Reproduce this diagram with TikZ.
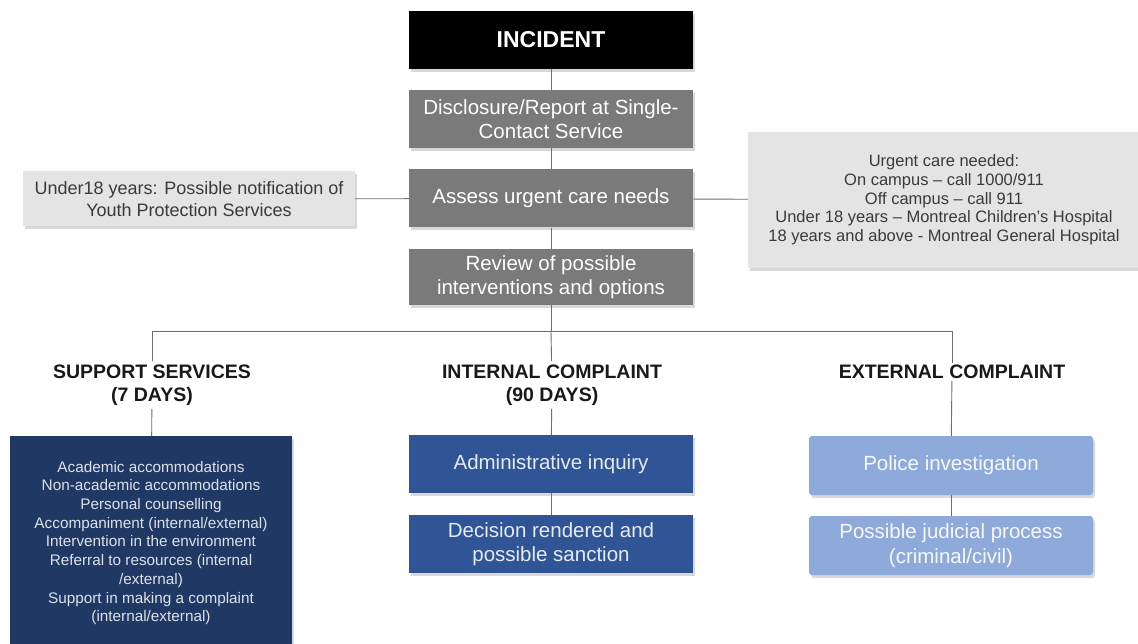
\documentclass[tikz,border=0pt]{standalone}
\usepackage{fontspec}
\setmainfont{Liberation Sans}
\usetikzlibrary{shadows}
\definecolor{linegray}{HTML}{6E6E6E}
\definecolor{boxgray}{HTML}{7A7A7A}
\definecolor{lightgray}{HTML}{E4E4E4}
\definecolor{txtgray}{HTML}{3A3A3A}
\definecolor{navy}{HTML}{1F3864}
\definecolor{midblue}{HTML}{2F5597}
\definecolor{paleblue}{HTML}{8EAADB}
\tikzset{%
    con/.style={line width=0.9pt, draw=linegray},
    box/.style={rectangle, minimum width=284pt, minimum height=58pt, inner sep=2pt, align=center,
        drop shadow={shadow xshift=2pt, shadow yshift=-3pt, opacity=0.3}},
    tbox/.style={box, fill=black, text=white, font=\fontsize{23}{27}\selectfont\bfseries},
    gbox/.style={box, fill=boxgray, text=white, font=\fontsize{20.5}{24.5}\selectfont},
    lbox/.style={box, fill=lightgray, text=txtgray},
    hd/.style={rectangle, fill=white, inner sep=3pt, align=center, text=black!90, font=\fontsize{19.5}{23.5}\selectfont\bfseries},
    sbox/.style={box, fill=navy, text=white!85!navy, font=\fontsize{15.3}{18.7}\selectfont},
    ibox/.style={box, fill=midblue, text=white!88!midblue, font=\fontsize{20.5}{24.5}\selectfont},
    ebox/.style={box, rounded corners=3pt, fill=paleblue, text=white!92!paleblue, font=\fontsize{20.5}{24.5}\selectfont},
}
\begin{document}
\begin{tikzpicture}[x=1pt,y=-1pt]
    \useasboundingbox (0,0) rectangle (1138,644);
    \fill[white] (0,0) rectangle (1138,644);
    \coordinate (barL) at (152,331);
    \coordinate (barM) at (551,331);
    \coordinate (barR) at (952,331);
    \node[tbox] (inc) at (551,40) {INCIDENT};
    \node[gbox] (disc) at (551,119) {Disclosure/Report at Single-\\Contact Service};
    \node[gbox] (assess) at (551,198.5) {Assess urgent care needs};
    \node[gbox, minimum height=56pt] (review) at (551,277) {Review of possible\\interventions and options};
    \node[lbox, minimum width=332pt, minimum height=55pt, font=\fontsize{18}{21.5}\selectfont] (youth) at (189,199)
        {Under18 years: Possible notification of\\Youth Protection Services};
    \node[lbox, minimum width=392pt, minimum height=136pt, font=\fontsize{16.5}{18.7}\selectfont] (urgent) at (944,200)
        {Urgent care needed:\\On campus -- call 1000/911\\Off campus -- call 911\\Under 18 years -- Montreal Children's Hospital\\18 years and above - Montreal General Hospital};
    \node[hd] (suphd) at (152,385) {SUPPORT SERVICES\\(7 DAYS)};
    \node[hd] (inthd) at (552,385) {INTERNAL COMPLAINT\\(90 DAYS)};
    \node[hd, inner sep=2pt] (exthd) at (952,372) {EXTERNAL COMPLAINT};
    \node[sbox, minimum width=282pt, minimum height=214pt] (sup) at (151,543)
        {Academic accommodations\\Non-academic accommodations\\Personal counselling\\Accompaniment (internal/external)\\Intervention in the environment\\Referral to resources (internal\\/external)\\Support in making a complaint\\(internal/external)};
    \node[ibox] (admin) at (551,464) {Administrative inquiry};
    \node[ibox] (decision) at (551,544) {Decision rendered and\\possible sanction};
    \node[ebox, minimum height=59pt] (police) at (951,465.5) {Police investigation};
    \node[ebox, minimum height=59pt] (judicial) at (951,545.5) {Possible judicial process\\(criminal/civil)};
    \draw[con] (inc) -- (disc);
    \draw[con] (disc) -- (assess);
    \draw[con] (assess) -- (review);
    \draw[con] (assess) -- (youth);
    \draw[con] (assess) -- (urgent);
    \draw[con] (review) -- (barM);
    \draw[con] (barL) -- (barR);
    \draw[con] (barL) -- (suphd);
    \draw[con] (suphd) -- (sup);
    \draw[con] (barM) -- (inthd);
    \draw[con] (inthd) -- (admin);
    \draw[con] (admin) -- (decision);
    \draw[con] (barR) -- (exthd);
    \draw[con] (exthd) -- (police);
    \draw[con] (police) -- (judicial);
\end{tikzpicture}
\end{document}
